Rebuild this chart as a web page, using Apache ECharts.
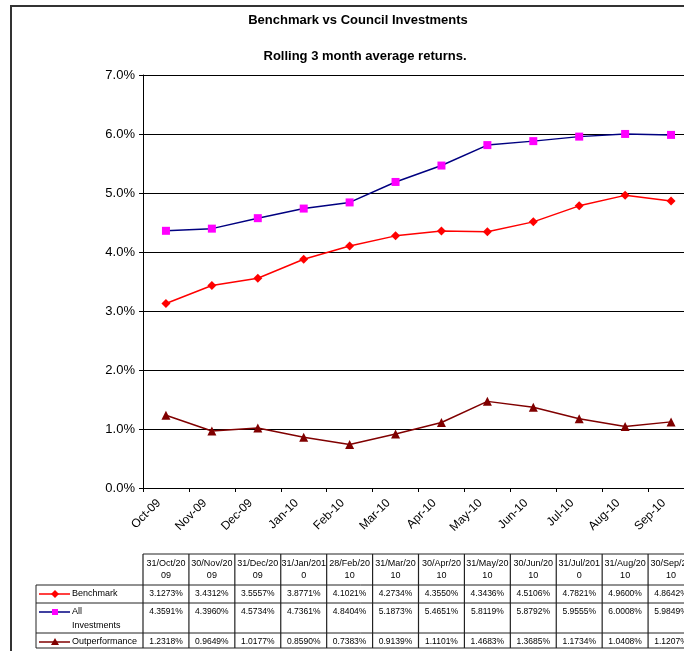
<!DOCTYPE html>
<html><head><meta charset="utf-8">
<script src="https://cdn.jsdelivr.net/npm/echarts@6/dist/echarts.min.js"></script>
<style>html,body{margin:0;padding:0;background:#fff}#c{width:684px;height:651px}</style>
</head><body><div id="c"></div>
<script>
const categories = ['Oct-09','Nov-09','Dec-09','Jan-10','Feb-10','Mar-10','Apr-10','May-10','Jun-10','Jul-10','Aug-10','Sep-10'];
const tableHeaders = ['31/Oct/20\n09','30/Nov/20\n09','31/Dec/20\n09','31/Jan/201\n0','28/Feb/20\n10','31/Mar/20\n10','30/Apr/20\n10','31/May/20\n10','30/Jun/20\n10','31/Jul/201\n0','31/Aug/20\n10','30/Sep/20\n10'];
const benchmark = [3.1273, 3.4312, 3.5557, 3.8771, 4.1021, 4.2734, 4.3550, 4.3436, 4.5106, 4.7821, 4.9600, 4.8642];
const allInvestments = [4.3591, 4.3960, 4.5734, 4.7361, 4.8404, 5.1873, 5.4651, 5.8119, 5.8792, 5.9555, 6.0008, 5.9849];
const outperformance = [1.2318, 0.9649, 1.0177, 0.8590, 0.7383, 0.9139, 1.1101, 1.4683, 1.3685, 1.1734, 1.0408, 1.1207];
const yMin = 0, yMax = 7, yStep = 1;
const seriesNames = ['Benchmark', 'All Investments', 'Outperformance'];

const FONT = 'Liberation Sans, Arial, sans-serif';
const chart = echarts.init(document.getElementById('c'), null, {renderer: 'canvas'});

const option = {
  animation: false,
  backgroundColor: '#fff',
  title: [
    {text: 'Benchmark vs Council Investments', left: 353, top: 9, textAlign: 'center',
     textStyle: {fontFamily: FONT, fontSize: 13, fontWeight: 'bold', color: '#000'}},
    {text: 'Rolling 3 month average returns.', left: 360, top: 45, textAlign: 'center',
     textStyle: {fontFamily: FONT, fontSize: 13, fontWeight: 'bold', color: '#000'}}
  ],
  grid: {left: 143, width: 551, top: 75, height: 413, containLabel: false, outerBoundsMode: 'none'},
  xAxis: {
    type: 'category', data: categories, boundaryGap: true,
    axisLine: {lineStyle: {color: '#000', width: 1}},
    axisTick: {show: true, length: 4, lineStyle: {color: '#000'}},
    axisLabel: {interval: 0, rotate: 45, margin: 6, padding: [0, 10, 0, 0],
      fontFamily: FONT, fontSize: 12, color: '#000'}
  },
  yAxis: {
    type: 'value', min: yMin, max: yMax, interval: yStep,
    axisLine: {show: true, lineStyle: {color: '#000', width: 1}},
    axisTick: {show: true, length: 4, lineStyle: {color: '#000'}},
    axisLabel: {formatter: v => v.toFixed(1) + '%', fontFamily: FONT, fontSize: 13, color: '#000', margin: 8},
    splitLine: {show: true, lineStyle: {color: '#000', width: 1}}
  },
  series: [
    {name: seriesNames[0], type: 'line', data: benchmark, symbol: 'diamond', symbolSize: 9,
     lineStyle: {color: '#FF0000', width: 1.5}, itemStyle: {color: '#FF0000'}},
    {name: seriesNames[1], type: 'line', data: allInvestments, symbol: 'rect', symbolSize: 8,
     lineStyle: {color: '#000080', width: 1.5}, itemStyle: {color: '#FF00FF'}},
    {name: seriesNames[2], type: 'line', data: outperformance, symbol: 'triangle', symbolSize: 9,
     lineStyle: {color: '#800000', width: 1.5}, itemStyle: {color: '#800000'}}
  ]
};
chart.setOption(option);

// Data table drawn below the chart, aligned to category axis
const cx = categories.map((_, i) => chart.convertToPixel({xAxisIndex: 0}, i));
const step = cx[1] - cx[0];
const left0 = cx[0] - step / 2;
const right0 = cx[cx.length - 1] + step / 2;
const T = {hTop: 554, r1: 585, r2: 603, r3: 633, r4: 648, legL: 36};
const els = [];
const LC = '#222';
els.push({type: 'rect', shape: {x: 11, y: 6, width: 740, height: 720}, style: {fill: null, stroke: '#333', lineWidth: 2}, z: 100});
els.push({type: 'line', shape: {x1: left0, y1: T.hTop, x2: right0 + 20, y2: T.hTop}, style: {stroke: LC, lineWidth: 1}});
[T.r1, T.r2, T.r3, T.r4].forEach(y => els.push({type: 'line', shape: {x1: T.legL, y1: y, x2: right0 + 20, y2: y}, style: {stroke: LC, lineWidth: 1}}));
els.push({type: 'line', shape: {x1: T.legL, y1: T.r1, x2: T.legL, y2: T.r4}, style: {stroke: LC, lineWidth: 1}});
for (let k = 0; k <= categories.length; k++) {
  const x = left0 + k * step;
  els.push({type: 'line', shape: {x1: x, y1: T.hTop, x2: x, y2: T.r4}, style: {stroke: LC, lineWidth: 1.2}});
}
const txt = (text, x, y, size, align) => ({type: 'text', x: x, y: y,
  style: {text: text, fontFamily: FONT, fontSize: size, fill: '#000', align: align || 'center', verticalAlign: 'middle',
          textAlign: align || 'center', textVerticalAlign: 'middle', lineHeight: 12}});
tableHeaders.forEach((h, i) => els.push(txt(h, cx[i], 570, 9)));
const fmt = v => v.toFixed(4) + '%';
benchmark.forEach((v, i) => els.push(txt(fmt(v), cx[i], 594, 8.5)));
allInvestments.forEach((v, i) => els.push(txt(fmt(v), cx[i], 612, 8.5)));
outperformance.forEach((v, i) => els.push(txt(fmt(v), cx[i], 642, 8.5)));
// legend keys
const keyY = [594, 612, 642];
const keyColors = [['#FF0000', '#FF0000'], ['#000080', '#FF00FF'], ['#800000', '#800000']];
keyY.forEach((y, j) => {
  els.push({type: 'line', shape: {x1: 39, y1: y, x2: 70, y2: y}, style: {stroke: keyColors[j][0], lineWidth: 1.5}});
  const c = keyColors[j][1];
  if (j === 0) els.push({type: 'polygon', shape: {points: [[55, y - 4], [59, y], [55, y + 4], [51, y]]}, style: {fill: c}});
  if (j === 1) els.push({type: 'rect', shape: {x: 52, y: y - 3, width: 6, height: 6}, style: {fill: c}});
  if (j === 2) els.push({type: 'polygon', shape: {points: [[55, y - 4], [59, y + 3], [51, y + 3]]}, style: {fill: c}});
});
els.push(txt('Benchmark', 72, 594, 9, 'left'));
els.push(txt('All', 72, 612, 9, 'left'));
els.push(txt('Investments', 72, 626, 9, 'left'));
els.push(txt('Outperformance', 72, 642, 9, 'left'));
chart.setOption({graphic: {elements: els}});
</script>
</body></html>
